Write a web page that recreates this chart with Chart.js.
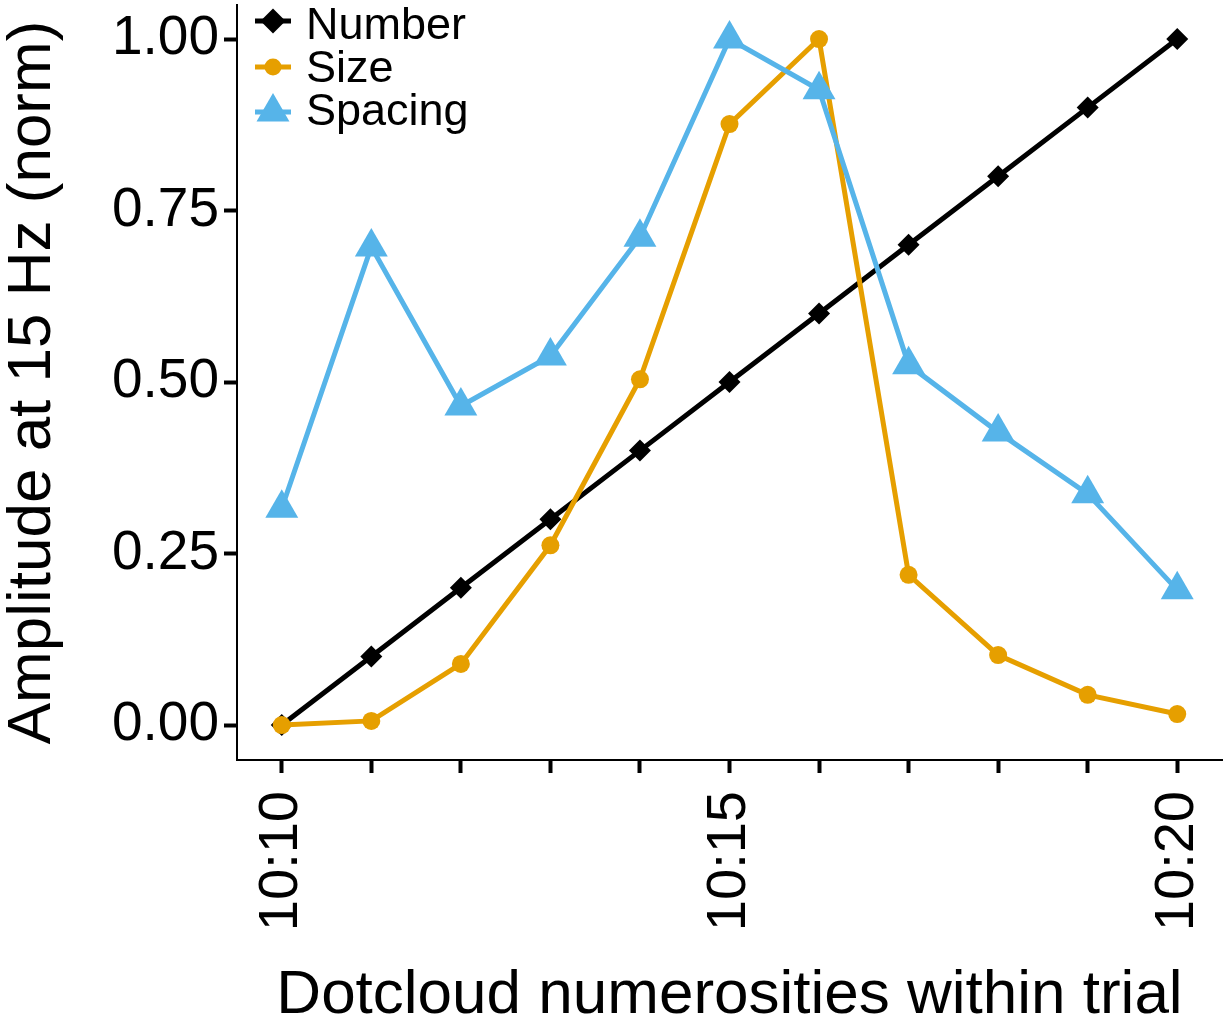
<!DOCTYPE html>
<html>
<head>
<meta charset="utf-8">
<script src="https://cdn.jsdelivr.net/npm/chart.js@4"></script>
<style>
  body { margin: 0; background: #fff; }
</style>
</head>
<body>
<canvas id="chart" width="1224" height="1023"></canvas>
<script>
const categories = ["10:10", "10:11", "10:12", "10:13", "10:14", "10:15", "10:16", "10:17", "10:18", "10:19", "10:20"];
const shownLabels = ["10:10", "10:15", "10:20"];
const yTicks = [0, 0.25, 0.5, 0.75, 1];

const numberVals = [0, 0.1, 0.2, 0.3, 0.4, 0.5, 0.6, 0.7, 0.8, 0.9, 1.0];
const sizeVals = [0, 0.006, 0.089, 0.262, 0.504, 0.876, 1.0, 0.219, 0.102, 0.044, 0.016];
const spacingVals = [0.316, 0.697, 0.465, 0.538, 0.711, 1.0, 0.926, 0.525, 0.427, 0.337, 0.197];

const font = '"Liberation Sans", Arial, Helvetica, sans-serif';

// legend drawn inside the plot, top left
const insideLegend = {
    id: "insideLegend",
    afterDatasetsDraw(chart) {
        const ctx = chart.ctx;
        const left = chart.chartArea.left;
        const keyY = [21, 67, 112];
        const textY = [27, 70, 113];
        const keyR = [12.5, 8.5, 19];
        ctx.save();
        chart.data.datasets.forEach((ds, i) => {
            ctx.strokeStyle = ds.borderColor;
            ctx.lineWidth = 5;
            ctx.beginPath();
            ctx.moveTo(left + 18, keyY[i]);
            ctx.lineTo(left + 54, keyY[i]);
            ctx.stroke();
            ctx.fillStyle = ds.borderColor;
            Chart.helpers.drawPoint(ctx, {pointStyle: ds.pointStyle, radius: keyR[i], rotation: 0, borderWidth: 0}, left + 36, keyY[i]);
            ctx.fillStyle = "#000";
            ctx.font = "45px " + font;
            ctx.textBaseline = "middle";
            ctx.textAlign = "left";
            ctx.fillText(ds.label, left + 69, textY[i]);
        });
        ctx.restore();
    }
};

new Chart(document.getElementById("chart"), {
    type: "line",
    data: {
        labels: categories,
        datasets: [
            {
                label: "Number",
                data: numberVals,
                borderColor: "#000000",
                backgroundColor: "#000000",
                borderWidth: 5,
                pointStyle: "rectRot",
                pointRadius: 11,
                pointBorderWidth: 0,
                tension: 0,
                order: 2
            },
            {
                label: "Size",
                data: sizeVals,
                borderColor: "#E69F00",
                backgroundColor: "#E69F00",
                borderWidth: 5,
                pointStyle: "circle",
                pointRadius: 9,
                pointBorderWidth: 0,
                tension: 0,
                order: 1
            },
            {
                label: "Spacing",
                data: spacingVals,
                borderColor: "#56B4E9",
                backgroundColor: "#56B4E9",
                borderWidth: 5,
                pointStyle: "triangle",
                pointRadius: 19,
                pointBorderWidth: 0,
                tension: 0,
                order: 0
            }
        ]
    },
    options: {
        responsive: false,
        animation: false,
        clip: false,
        layout: {
            autoPadding: false,
            padding: {top: 5, right: 2, left: 0, bottom: 0}
        },
        plugins: {
            legend: {display: false},
            tooltip: {enabled: false}
        },
        scales: {
            x: {
                type: "category",
                offset: true,
                border: {display: true, color: "#000", width: 2},
                grid: {
                    drawOnChartArea: false,
                    drawTicks: true,
                    tickLength: 13,
                    tickWidth: 4,
                    tickColor: "#000"
                },
                ticks: {
                    autoSkip: false,
                    minRotation: 90,
                    maxRotation: 90,
                    padding: 18,
                    color: "#000",
                    font: {family: font, size: 56},
                    callback: function (value) {
                        const lab = this.getLabelForValue(value);
                        return shownLabels.includes(lab) ? lab : "";
                    }
                },
                title: {
                    display: true,
                    text: "Dotcloud numerosities within trial",
                    color: "#000",
                    font: {family: font, size: 62, lineHeight: 1},
                    padding: {top: 0, bottom: -4}
                },
                afterFit(scale) {
                    scale.height = 263;
                    scale.paddingLeft = 0;
                    scale.paddingRight = 0;
                }
            },
            y: {
                min: -0.051,
                max: 1.0496,
                border: {display: true, color: "#000", width: 2},
                grid: {
                    drawOnChartArea: false,
                    drawTicks: true,
                    tickLength: 13,
                    tickWidth: 4,
                    tickColor: "#000"
                },
                afterBuildTicks(scale) {
                    scale.ticks = yTicks.map(v => ({value: v}));
                },
                ticks: {
                    padding: 5,
                    color: "#000",
                    font: {family: font, size: 55},
                    callback: v => Number(v).toFixed(2)
                },
                title: {
                    display: true,
                    text: "Amplitude at 15 Hz (norm)",
                    color: "#000",
                    font: {family: font, size: 62, lineHeight: 1},
                    padding: {top: 2, bottom: 0}
                },
                afterFit(scale) {
                    scale.width = 237;
                    scale.paddingTop = 0;
                    scale.paddingBottom = 0;
                }
            }
        }
    },
    plugins: [insideLegend]
});
</script>
</body>
</html>
